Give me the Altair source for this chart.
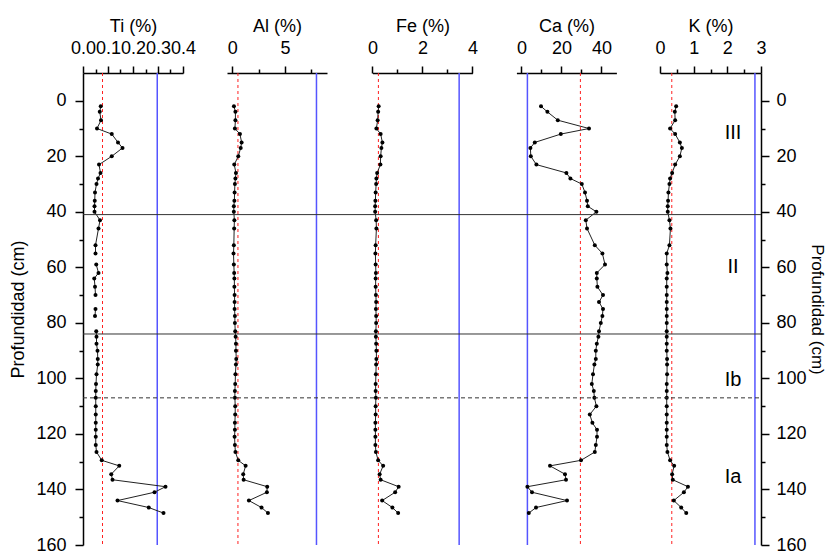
import altair as alt
import pandas as pd

# ---------------- data ----------------
DEPTH = [2, 4, 7, 10, 12, 15, 17, 20, 23, 26,
         28, 30, 33, 36, 38, 40, 43, 46, 52, 55,
         59, 62, 64, 67, 70, 72.5, 75, 77.5, 80, 83,
         85, 87.5, 90, 93, 95, 98.5, 102, 104.5, 107, 110,
         113, 116, 118.5, 121, 124, 126.5, 129.5, 131.5, 134.5, 136.5,
         139, 141, 144, 146.5, 148.5]

TI_DEPTH = [2, 4, 7, 10, 12, 15, 17, 20, 23, 26,
            28, 30, 33, 36, 38, 40, 43, 46, 52, 55,
            57, 59, 62, 64, 67, 70, 72.5, 75, 77.5, 80,
            83, 85, 87.5, 90, 93, 95, 98.5, 102, 104.5, 107,
            110, 113, 116, 118.5, 121, 124, 126.5, 129.5, 131.5, 134.5,
            136.5, 139, 141, 144, 146.5, 148.5]
TI = [0.071, 0.067, 0.072, 0.056, 0.115, 0.140, 0.158, 0.115, 0.064, 0.070,
      0.060, 0.054, 0.048, 0.047, 0.046, 0.046, 0.068, 0.062, 0.050, 0.050,
      None, 0.053, 0.062, 0.045, 0.048, 0.050, None, 0.050, 0.048, None,
      0.053, 0.054, 0.054, 0.058, 0.059, 0.059, 0.054, 0.052, 0.051, 0.051,
      0.051, 0.051, 0.051, 0.051, 0.051, 0.051, 0.054, 0.075, 0.145, 0.113,
      0.118, 0.330, 0.286, 0.138, 0.263, 0.322]

AL = [0.16, 0.30, 0.30, 0.25, 0.73, 0.89, 0.80, 0.57, 0.19, 0.35,
      0.30, 0.25, 0.22, 0.20, 0.15, 0.15, 0.20, 0.18, 0.15, 0.12,
      0.15, 0.18, 0.20, 0.20, 0.22, 0.22, 0.22, 0.25, 0.25, 0.28,
      0.32, 0.35, 0.35, 0.38, 0.35, 0.30, 0.28, 0.25, 0.25, 0.28,
      0.28, 0.25, 0.25, 0.22, 0.25, 0.30, 0.57, 1.27, 1.04, 1.08,
      3.32, 3.29, 1.58, 2.78, 3.39]

FE = [0.25, 0.23, 0.21, 0.16, 0.33, 0.40, 0.36, 0.33, 0.32, 0.19,
      0.16, 0.15, 0.13, 0.12, 0.11, 0.11, 0.15, 0.16, 0.13, 0.12,
      0.13, 0.14, 0.13, 0.13, 0.14, 0.15, 0.14, 0.15, 0.15, 0.14,
      0.14, 0.15, 0.16, 0.16, 0.15, 0.14, 0.13, 0.13, 0.14, 0.13,
      0.13, 0.12, 0.12, 0.12, 0.12, 0.14, 0.23, 0.43, 0.29, 0.33,
      1.05, 0.91, 0.39, 0.80, 1.03]

CA = [9.8, 13.0, 18.2, 33.8, 19.7, 6.7, 4.5, 4.7, 7.5, 22.5,
      24.5, 30.2, 31.8, 32.8, 33.2, 37.5, 32.2, 32.8, 36.7, 40.5,
      41.8, 37.7, 37.7, 38.0, 40.8, 38.8, 40.8, 40.5, 39.7, 38.8,
      38.5, 37.7, 37.2, 37.2, 36.5, 35.8, 35.2, 36.2, 36.5, 37.5,
      34.2, 35.5, 37.8, 37.8, 37.2, 36.7, 29.8, 14.3, 21.8, 22.3,
      3.0, 5.3, 22.8, 7.3, 3.7]

K = [0.48, 0.44, 0.45, 0.30, 0.45, 0.59, 0.65, 0.59, 0.45, 0.36,
     0.30, 0.28, 0.25, 0.24, 0.23, 0.23, 0.28, 0.31, 0.28, 0.20,
     0.20, 0.22, 0.20, 0.20, 0.20, 0.20, 0.20, 0.20, 0.20, 0.20,
     0.20, 0.20, 0.20, 0.21, 0.21, 0.21, 0.20, 0.20, 0.20, 0.20,
     0.20, 0.20, 0.20, 0.20, 0.20, 0.22, 0.30, 0.42, 0.36, 0.38,
     0.83, 0.71, 0.41, 0.63, 0.78]

ELEMENTS = ["Ti", "Al", "Fe", "Ca", "K"]
SERIES = {"Ti": (TI_DEPTH, TI), "Al": (DEPTH, AL), "Fe": (DEPTH, FE),
          "Ca": (DEPTH, CA), "K": (DEPTH, K)}
DOMAINS = {"Ti": [0, 0.4], "Al": [-0.5, 9], "Fe": [0, 4],
           "Ca": [-2.5, 47.5], "K": [0, 3]}
TICKS = {"Ti": [0, 0.05, 0.1, 0.15, 0.2, 0.25, 0.3, 0.35, 0.4],
         "Al": [0, 2.5, 5, 7.5],
         "Fe": [0, 1, 2, 3, 4],
         "Ca": [0, 10, 20, 30, 40],
         "K": [0, 0.5, 1, 1.5, 2, 2.5, 3]}
MAJOR = {"Ti": 0.1, "Al": 5, "Fe": 2, "Ca": 20, "K": 1}
FMT = {"Ti": ".1f", "Al": "d", "Fe": "d", "Ca": "d", "K": "d"}
RED_REF = {"Ti": 0.078, "Al": 0.54, "Fe": 0.24, "Ca": 29.5, "K": 0.35}
BLUE_REF = {"Ti": 0.297, "Al": 8.0, "Fe": 3.47, "Ca": 3.0, "K": 2.82}

ZONE_NAMES = ["III", "II", "Ib", "Ia"]
ZONE_DEPTH = [11.5, 60, 100.5, 135.5]
BOUNDARY_SOLID = [41, 84]
BOUNDARY_DASHED = [107]
DEPTH_TICKS = list(range(0, 161, 10))

# ---------------- layout ----------------
W, H = 678, 472
PANEL_RANGE = {"Ti": [0, 100], "Al": [144, 244], "Fe": [289.4, 389.4],
               "Ca": [433.4, 533.4], "K": [577, 678]}
FONT = "Liberation Sans"
FS = 18

yscale = alt.Scale(domain=[-10, 160], reverse=True, nice=False, zero=False)


def major_test(step):
    return f"abs(datum.value / {step} - round(datum.value / {step})) < 1e-6"


def panel(el):
    dep, vals = SERIES[el]
    df = pd.DataFrame({"depth": dep, "v": vals})
    test = major_test(MAJOR[el])
    axis = alt.Axis(
        orient="top", values=TICKS[el], title=f"{el} (%)",
        labelExpr=f"{test} ? format(datum.value, '{FMT[el]}') : ''",
        tickSize={"condition": {"test": test, "value": 7}, "value": 4},
        labelOverlap=False, labelFlush=False, grid=False,
        labelPadding=9, titlePadding=4,
    )
    xs = alt.Scale(domain=DOMAINS[el], range=PANEL_RANGE[el], nice=False, zero=False)
    refs = pd.DataFrame({"v": [RED_REF[el]]})
    refb = pd.DataFrame({"v": [BLUE_REF[el]]})
    red = alt.Chart(refs).mark_rule(color="#ff2020", strokeWidth=1, strokeDash=[3, 3]).encode(
        x=alt.X("v:Q", scale=xs, axis=axis))
    blue = alt.Chart(refb).mark_rule(color="#5555ff", strokeWidth=1.5).encode(
        x=alt.X("v:Q", scale=xs))
    line = alt.Chart(df).mark_line(color="#222222", strokeWidth=1,
                                   invalid="break-paths-show-domains").encode(
        x=alt.X("v:Q", scale=xs),
        y=alt.Y("depth:Q", scale=yscale, axis=None),
        order="depth:Q")
    pts = alt.Chart(df.dropna()).mark_circle(color="black", size=16, opacity=1).encode(
        x=alt.X("v:Q", scale=xs),
        y=alt.Y("depth:Q", scale=yscale, axis=None))
    return alt.layer(red, blue, line, pts)


dtest = major_test(20)
left_axis = alt.Axis(orient="left", values=DEPTH_TICKS, title="Profundidad (cm)",
                     labelExpr=f"{dtest} ? format(datum.value, 'd') : ''",
                     tickSize={"condition": {"test": dtest, "value": 8}, "value": 4},
                     labelOverlap=False, labelFlush=False, grid=False,
                     labelPadding=9, titlePadding=8)
right_axis = alt.Axis(orient="right", values=DEPTH_TICKS, title="Profundidad (cm)",
                      labelExpr=f"{dtest} ? format(datum.value, 'd') : ''",
                      tickSize={"condition": {"test": dtest, "value": 8}, "value": 4},
                      labelOverlap=False, labelFlush=False, grid=False,
                      labelPadding=7, titlePadding=1, titleFontSize=17)

hsolid = alt.Chart(pd.DataFrame({"depth": BOUNDARY_SOLID})).mark_rule(
    color="#333333", strokeWidth=1).encode(
    x=alt.value(0), x2=alt.value(W),
    y=alt.Y("depth:Q", scale=yscale, axis=left_axis))
hdash = alt.Chart(pd.DataFrame({"depth": BOUNDARY_DASHED})).mark_rule(
    color="#333333", strokeWidth=1, strokeDash=[4, 3]).encode(
    x=alt.value(0), x2=alt.value(W),
    y=alt.Y("depth:Q", scale=yscale, axis=None))
zones = alt.Chart(pd.DataFrame({"zone": ZONE_NAMES, "depth": ZONE_DEPTH})).mark_text(
    font=FONT, fontSize=20, color="black", align="center", baseline="middle").encode(
    x=alt.value(650),
    y=alt.Y("depth:Q", scale=yscale, axis=right_axis),
    text="zone:N")

chart = alt.layer(
    *[panel(el) for el in ELEMENTS], hsolid, hdash, zones
).resolve_scale(x="independent").resolve_axis(x="independent", y="independent").properties(
    width=W, height=H,
    autosize=alt.AutoSizeParams(type="none"),
    padding={"left": 75, "top": 65, "right": 66, "bottom": 8},
).configure_view(strokeWidth=0).configure_axis(
    labelFont=FONT, titleFont=FONT, labelFontSize=FS, titleFontSize=FS,
    titleFontWeight="normal", labelColor="black", titleColor="black",
    domainColor="black", tickColor="black", domainWidth=1.5, tickWidth=1.5,
)

chart.save("out.html", embed_options={"renderer": "svg", "actions": False})
